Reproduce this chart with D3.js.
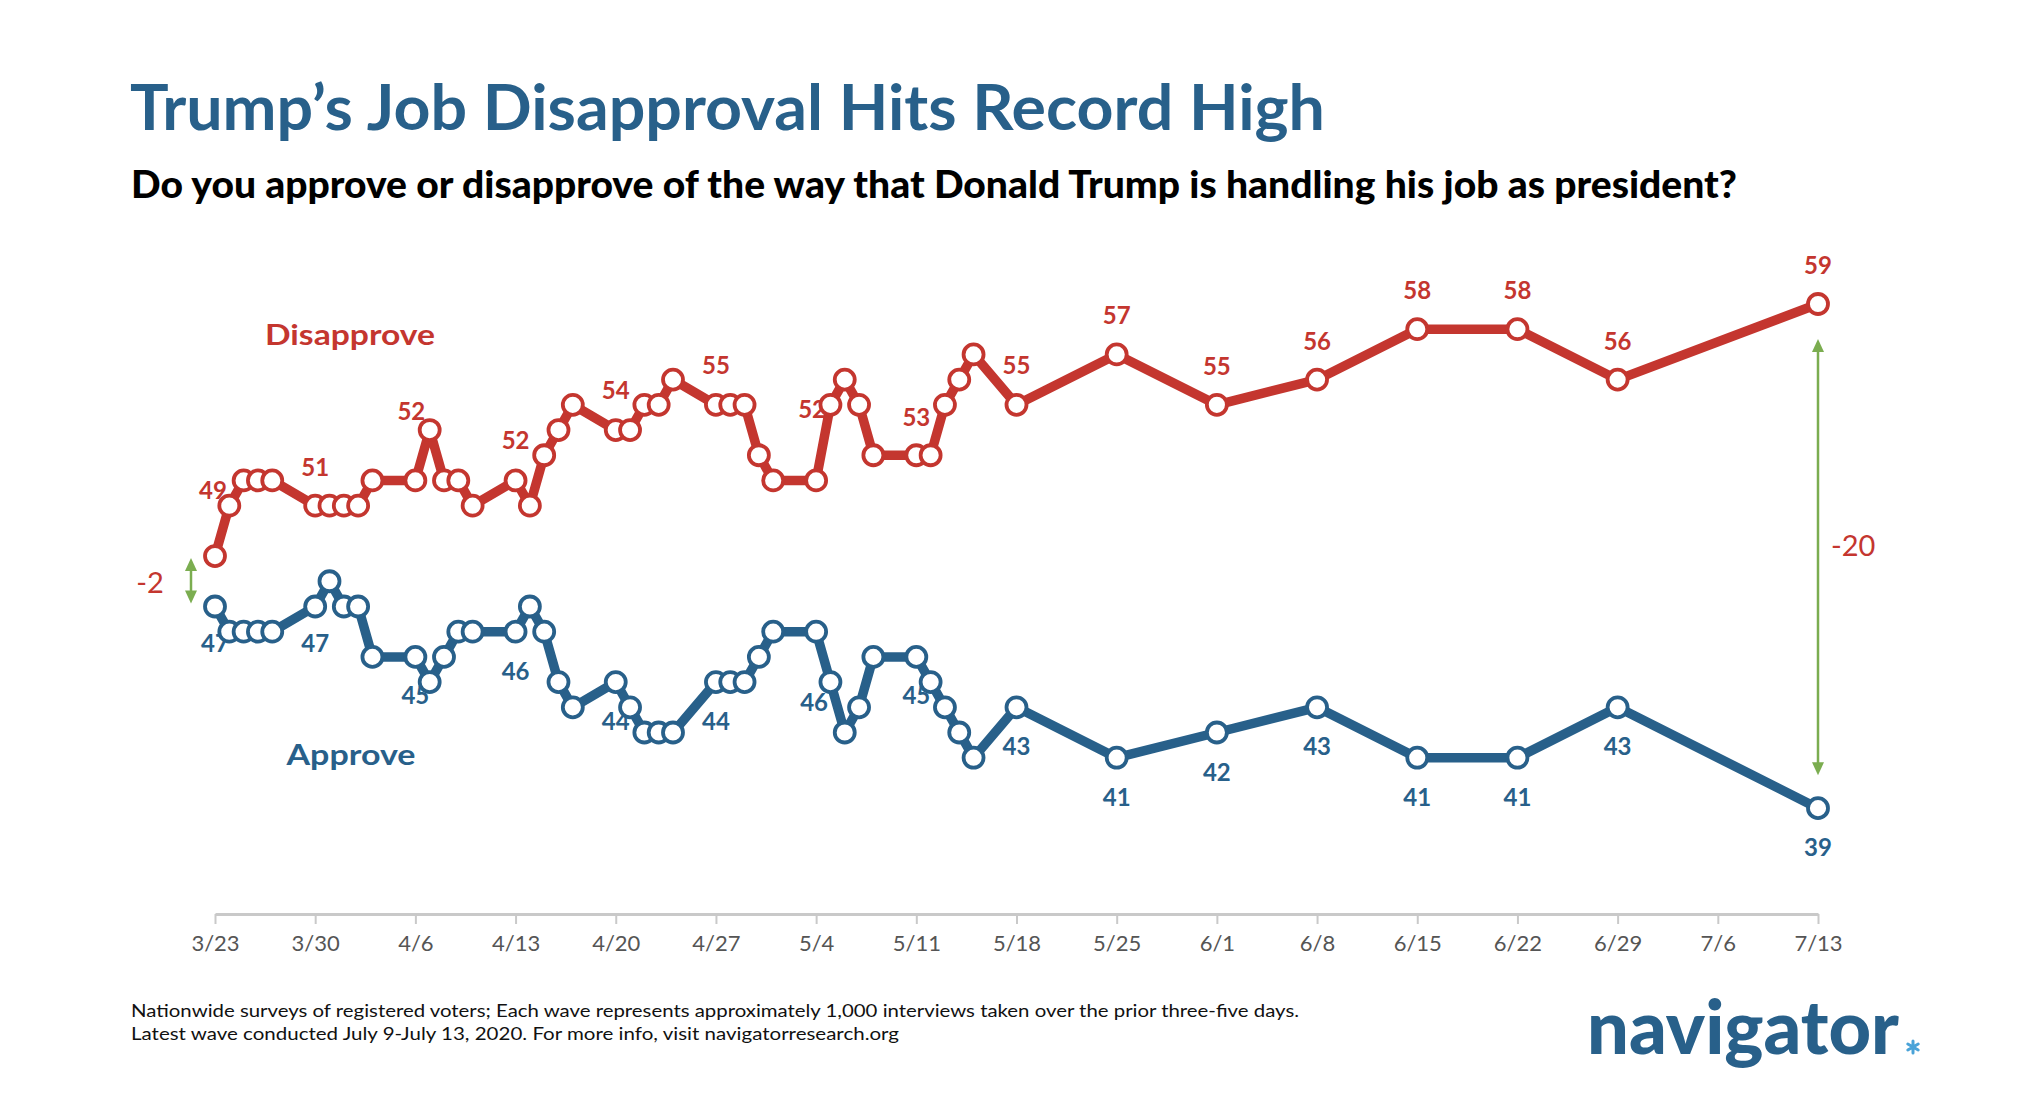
<!DOCTYPE html>
<html><head><meta charset="utf-8">
<script src="https://cdnjs.cloudflare.com/ajax/libs/d3/7.8.5/d3.min.js"></script>
<style>
body{margin:0;background:#fff;}
svg{display:block;font-family:Lato,"Open Sans",sans-serif;}
</style>
</head><body>
<svg id="chart" width="2040" height="1106"></svg>
<script>
// ---------- DATA ----------
const dates = [
  "2020-03-23","2020-03-24","2020-03-25","2020-03-26","2020-03-27",
  "2020-03-30","2020-03-31","2020-04-01","2020-04-02","2020-04-03",
  "2020-04-06","2020-04-07","2020-04-08","2020-04-09","2020-04-10",
  "2020-04-13","2020-04-14","2020-04-15","2020-04-16","2020-04-17",
  "2020-04-20","2020-04-21","2020-04-22","2020-04-23","2020-04-24",
  "2020-04-27","2020-04-28","2020-04-29","2020-04-30","2020-05-01",
  "2020-05-04","2020-05-05","2020-05-06","2020-05-07","2020-05-08",
  "2020-05-11","2020-05-12","2020-05-13","2020-05-14","2020-05-15",
  "2020-05-18","2020-05-25","2020-06-01","2020-06-08","2020-06-15",
  "2020-06-22","2020-06-29","2020-07-13"
];
const disapprove = [
  49,51,52,52,52,
  51,51,51,51,52,
  52,54,52,52,51,
  52,51,53,54,55,
  54,54,55,55,56,
  55,55,55,53,52,
  52,55,56,55,53,
  53,53,55,56,57,
  55,57,55,56,58,58,56,59
];
const approve = [
  47,46,46,46,46,
  47,48,47,47,45,
  45,44,45,46,46,
  46,47,46,44,43,
  44,43,42,42,42,
  44,44,44,45,46,
  46,44,42,43,45,
  45,44,43,42,41,
  43,41,42,43,41,41,43,39
];
const tickDates = [
  "2020-03-23","2020-03-30","2020-04-06","2020-04-13","2020-04-20","2020-04-27",
  "2020-05-04","2020-05-11","2020-05-18","2020-05-25","2020-06-01","2020-06-08",
  "2020-06-15","2020-06-22","2020-06-29","2020-07-06","2020-07-13"
];
const tickLabels = ["3/23","3/30","4/6","4/13","4/20","4/27","5/4","5/11","5/18","5/25","6/1","6/8","6/15","6/22","6/29","7/6","7/13"];
const labelDates = [
  "2020-03-23","2020-03-30","2020-04-06","2020-04-13","2020-04-20","2020-04-27",
  "2020-05-04","2020-05-11","2020-05-18","2020-05-25","2020-06-01","2020-06-08",
  "2020-06-15","2020-06-22","2020-06-29","2020-07-13"
];
const seriesNames = ["Disapprove","Approve"];
const gapStart = -2, gapEnd = -20;

// label placement (layout only, separate from data)
const redLabelOffsets = [[-2,-57],[0,-30],[-4,-60],[0,-31],[0,-31],[0,-31],[-4,-62],[0,-29],[0,-31],
  [0,-30],[0,-30],[0,-30],[0,-30],[0,-30],[0,-30],[0,-30]];
const blueLabelOffsets = [[0,46],[0,46],[0,47],[0,48],[0,48],[0,48],[-2,79],[0,47],[0,48],
  [0,48],[0,48],[0,48],[0,48],[0,48],[0,48],[0,48]];

// ---------- SETUP ----------
const RED = "#c4362f", BLUE = "#28608a", GREEN = "#7bad50";
const parse = d3.utcParse("%Y-%m-%d");
const svg = d3.select("#chart");

const x = d3.scaleUtc().domain([parse("2020-03-23"), parse("2020-07-13")]).range([215, 1818]);
const y = d3.scaleLinear().domain([34.8, 59]).range([914, 304]);

const redData = dates.map((d,i)=>({date:parse(d), v:disapprove[i]}));
const blueData = dates.map((d,i)=>({date:parse(d), v:approve[i]}));

// fit a text's font-size so its natural width equals target
function fitWidth(sel, target){
  const fs = +sel.attr("font-size");
  const w = sel.node().getComputedTextLength();
  if (w > 0) sel.attr("font-size", fs * target / w);
  return sel;
}

// ---------- TITLES ----------
svg.append("text").attr("x",130).attr("y",130)
  .attr("font-size",63).attr("font-weight",700).attr("fill",BLUE)
  .attr("textLength",1195).attr("lengthAdjust","spacingAndGlyphs")
  .text("Trump’s Job Disapproval Hits Record High");
svg.append("text").attr("x",131).attr("y",198)
  .attr("font-size",37).attr("font-weight",900).attr("fill","#000")
  .attr("textLength",1606).attr("lengthAdjust","spacingAndGlyphs")
  .text("Do you approve or disapprove of the way that Donald Trump is handling his job as president?");

// ---------- AXIS ----------
const axis = d3.axisBottom(x)
  .tickValues(tickDates.map(parse))
  .tickFormat((d,i)=>tickLabels[i])
  .tickSize(10).tickPadding(11).tickSizeOuter(0);
const gAxis = svg.append("g").attr("transform",`translate(0,${y(34.8)})`).call(axis);
gAxis.select(".domain").attr("stroke","#c9c9c9").attr("stroke-width",3);
gAxis.selectAll(".tick line").attr("stroke","#c9c9c9").attr("stroke-width",2);
gAxis.selectAll(".tick text").attr("fill","#555").attr("font-size",22)
  .attr("font-family","Lato, 'Open Sans', sans-serif");

// ---------- SERIES NAMES ----------
svg.append("text").attr("x",350).attr("y",345).attr("text-anchor","middle")
  .attr("font-size",28).attr("font-weight",700).attr("fill",RED)
  .attr("textLength",170).attr("lengthAdjust","spacingAndGlyphs").text(seriesNames[0]);
svg.append("text").attr("x",351).attr("y",765).attr("text-anchor","middle")
  .attr("font-size",28).attr("font-weight",700).attr("fill",BLUE)
  .attr("textLength",129).attr("lengthAdjust","spacingAndGlyphs").text(seriesNames[1]);

// ---------- DATA LABELS (under the marks) ----------
const labelSet = new Set(labelDates);
const gLabels = svg.append("g").attr("font-size",24).attr("font-weight",700).attr("text-anchor","middle");
dates.forEach((d,i)=>{
  if(!labelSet.has(d)) return;
  const k = labelDates.indexOf(d);
  const px = x(parse(d));
  gLabels.append("text").attr("fill",RED)
    .attr("x",px+redLabelOffsets[k][0]).attr("y",y(disapprove[i])+redLabelOffsets[k][1])
    .text(disapprove[i]);
  gLabels.append("text").attr("fill",BLUE)
    .attr("x",px+blueLabelOffsets[k][0]).attr("y",y(approve[i])+blueLabelOffsets[k][1])
    .text(approve[i]);
});

// ---------- LINES & POINTS ----------
const line = d3.line().x(d=>x(d.date)).y(d=>y(d.v));
function drawSeries(data,color){
  svg.append("path").datum(data).attr("d",line).attr("fill","none")
    .attr("stroke",color).attr("stroke-width",9.5).attr("stroke-linejoin","round");
  svg.append("g").selectAll("circle").data(data).join("circle")
    .attr("cx",d=>x(d.date)).attr("cy",d=>y(d.v)).attr("r",10)
    .attr("fill","#fff").attr("stroke",color).attr("stroke-width",3.8);
}
drawSeries(redData,RED);
drawSeries(blueData,BLUE);

// ---------- GAP ARROWS ----------
function vArrow(cx,y1,y2){
  const g = svg.append("g").attr("fill",GREEN).attr("stroke",GREEN);
  g.append("line").attr("x1",cx).attr("x2",cx).attr("y1",y1+10).attr("y2",y2-10).attr("stroke-width",2.5);
  g.append("path").attr("stroke","none").attr("d",`M${cx},${y1} L${cx-6},${y1+13} L${cx+6},${y1+13} Z`);
  g.append("path").attr("stroke","none").attr("d",`M${cx},${y2} L${cx-6},${y2-13} L${cx+6},${y2-13} Z`);
}
const first = redData[0].date, last = redData[redData.length-1].date;
vArrow(x(first)-24, y(disapprove[0])+2, y(approve[0])-3);
vArrow(x(last), y(disapprove[disapprove.length-1])+35, y(approve[approve.length-1])-33);
svg.append("text").attr("x",x(first)-65).attr("y",593).attr("text-anchor","middle")
  .attr("font-size",29).attr("fill",RED).text(gapStart);
svg.append("text").attr("x",x(last)+13).attr("y",556).attr("text-anchor","start")
  .attr("font-size",29).attr("fill",RED).text(gapEnd);

// ---------- FOOTNOTE ----------
svg.append("text").attr("x",131).attr("y",1017).attr("font-size",18).attr("fill","#111")
  .attr("textLength",1168).attr("lengthAdjust","spacingAndGlyphs")
  .text("Nationwide surveys of registered voters; Each wave represents approximately 1,000 interviews taken over the prior three-five days.");
svg.append("text").attr("x",131).attr("y",1040).attr("font-size",18).attr("fill","#111")
  .attr("textLength",768).attr("lengthAdjust","spacingAndGlyphs")
  .text("Latest wave conducted July 9-July 13, 2020. For more info, visit navigatorresearch.org");

// ---------- LOGO ----------
const logo = svg.append("text").attr("x",1587).attr("y",1054).attr("font-size",78).attr("font-weight",900)
  .attr("fill",BLUE).text("navigator");
fitWidth(logo, 312);
// small light-blue star mark after the word (drawn as a shape)
const starCx = 1913, starCy = 1047, starR = 6;
const star = d3.range(6).map(k=>{
  const a = Math.PI/2 + k*Math.PI/3;
  return `M${starCx},${starCy} L${starCx+starR*Math.cos(a)},${starCy-starR*Math.sin(a)}`;
}).join(" ");
svg.append("path").attr("d",star).attr("stroke","#4aa3d8").attr("stroke-width",3).attr("stroke-linecap","round");
</script>
</body></html>
